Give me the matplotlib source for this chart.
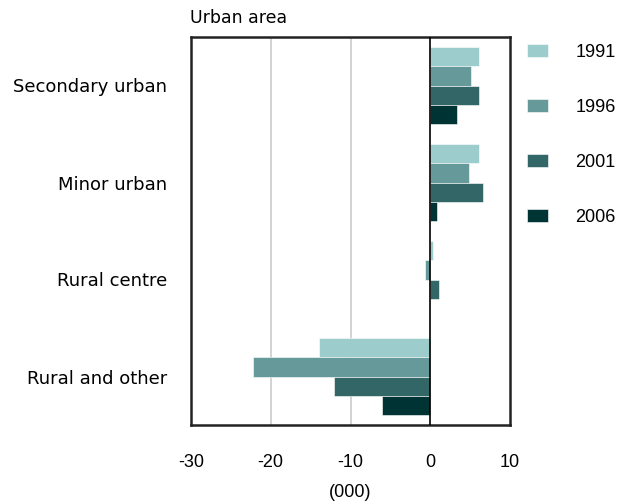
import matplotlib.pyplot as plt
import numpy as np

# categories and values (thousands)
areas = ['Secondary urban', 'Minor urban', 'Rural centre', 'Rural and other']
years = ['1991', '1996', '2001', '2006']
v1991 = [6.15, 6.1, 0.38, -13.9]
v1996 = [5.1, 4.9, -0.63, -22.2]
v2001 = [6.15, 6.66, 1.13, -12.1]
v2006 = [3.35, 0.84, 0.0, -6.1]
series = [v1991, v1996, v2001, v2006]
colours = ['#9ccccc', '#669999', '#336666', '#003333']

fig = plt.figure(figsize=(6.26, 5.04), dpi=100)
ax = fig.add_axes([191/626, 79/504, 319/626, 388/504])

y = np.arange(len(areas))
h = 0.2
for i, vals in enumerate(series):
    ax.barh(y - 0.3 + i*h, vals, height=h, color=colours[i],
            edgecolor='white', linewidth=0.4, label=years[i], zorder=3)

ax.set_xlim(-30, 10)
ax.set_ylim(3.5, -0.5)
ax.set_xticks([-30, -20, -10, 0, 10])
ax.set_xticklabels(['-30', '-20', '-10', '0', '10'], family='Liberation Sans', fontsize=13)
ax.set_yticks(y)
ax.set_yticklabels(areas, family='DejaVu Sans', fontsize=13)
ax.tick_params(axis='x', length=0, pad=21)
ax.tick_params(axis='y', length=0, pad=17)
for v in [-20, -10]:
    ax.axvline(v, color='#cccccc', linewidth=1.2, zorder=1)
ax.axvline(0, color='black', linewidth=1.2, zorder=4)
for s in ax.spines.values():
    s.set_linewidth(1.8)
    s.set_color('#222222')

ax.set_xlabel('(000)', family='Liberation Sans', fontsize=13, labelpad=9)
fig.text(190/626, 1 - 18/504, 'Urban area', family='DejaVu Sans', fontsize=12.5,
         va='center', ha='left')

fig.legend(loc='upper left', bbox_to_anchor=(527/626, 1 - 44/504), frameon=False,
           prop={'family': 'Liberation Sans', 'size': 13}, borderpad=0,
           borderaxespad=0, labelspacing=2.1, handlelength=1.17,
           handleheight=0.72, handletextpad=1.5)

fig.savefig('out.png', dpi=100)
